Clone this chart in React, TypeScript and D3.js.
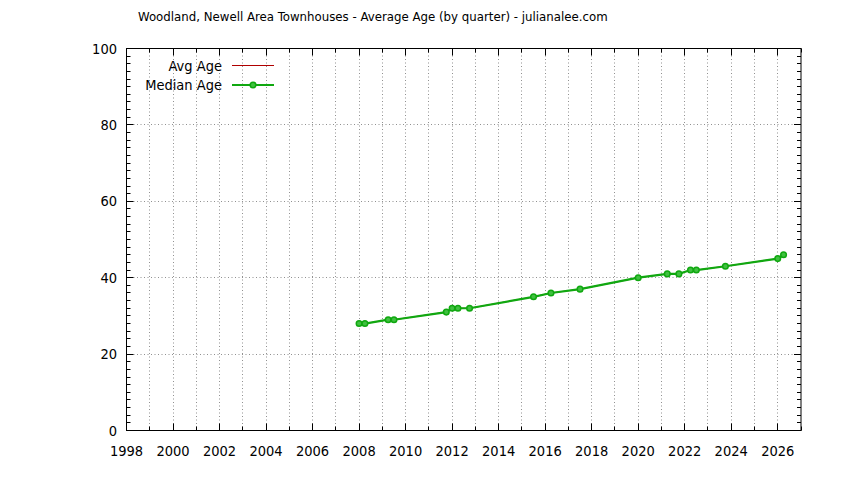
import React, { useEffect, useRef } from 'react';
import * as d3 from 'd3';

// quarter dates (decimal years) and ages
const quarters = [
  2008.0, 2008.25, 2009.25, 2009.5, 2011.75, 2012.0, 2012.25, 2012.75,
  2015.5, 2016.25, 2017.5, 2020.0, 2021.25, 2021.75, 2022.25, 2022.5,
  2023.75, 2026.0, 2026.25,
];
const avgAge = [27.7, 28, 29, 29, 31, 32, 32, 32, 35, 36, 37, 40, 41, 41, 42, 42, 43, 45, 46];
const medianAge = [28, 28, 29, 29, 31, 32, 32, 32, 35, 36, 37, 40, 41, 41, 42, 42, 43, 45, 46];

const yearTicks = d3.range(1998, 2028, 1);
const yearLabels = d3.range(1998, 2027, 2);
const ageTicks = d3.range(0, 101, 2);
const ageLabels = [0, 20, 40, 60, 80, 100];

const TITLE = 'Woodland, Newell Area Townhouses - Average Age (by quarter) - julianalee.com';
const FONT = '"DejaVu Sans Condensed", "DejaVu Sans", sans-serif';
const GREEN = '#10a810';
const RED = '#b00000';

export default function App() {
  const svgRef = useRef<SVGSVGElement>(null);

  useEffect(() => {
    if (!svgRef.current) return;
    const width = 844;
    const height = 480;
    const margin = { top: 48.5, right: 43, bottom: 49.5, left: 126.5 };
    const w = width - margin.left - margin.right;
    const h = height - margin.top - margin.bottom;

    const svg = d3.select(svgRef.current);
    svg.selectAll('*').remove();
    svg.attr('width', width).attr('height', height);

    svg.append('rect').attr('width', width).attr('height', height).attr('fill', '#fff');

    const x = d3.scaleLinear().domain([1998, 2027]).range([0, w]);
    const y = d3.scaleLinear().domain([0, 100]).range([h, 0]);
    const px = (v: number) => Math.round(x(v));
    const py = (v: number) => Math.round(y(v));

    const g = svg.append('g').attr('transform', `translate(${margin.left},${margin.top})`);

    // grid
    g.append('g')
      .selectAll('line')
      .data(yearTicks.filter(d => d > 1998 && d < 2027))
      .join('line')
      .attr('x1', d => px(d)).attr('x2', d => px(d))
      .attr('y1', 0).attr('y2', h)
      .attr('stroke', '#909090').attr('stroke-width', 1)
      .attr('stroke-dasharray', '1,2.5');
    g.append('g')
      .selectAll('line')
      .data(ageLabels.filter(d => d > 0 && d < 100))
      .join('line')
      .attr('x1', 0).attr('x2', w)
      .attr('y1', d => py(d)).attr('y2', d => py(d))
      .attr('stroke', '#909090').attr('stroke-width', 1)
      .attr('stroke-dasharray', '1,2.5');

    // ticks on all four sides, pointing inward
    const ticks = g.append('g').attr('stroke', '#000').attr('stroke-width', 1);
    yearTicks.forEach(d => {
      const len = d % 2 === 0 ? 7 : 4;
      ticks.append('line').attr('x1', px(d)).attr('x2', px(d)).attr('y1', h).attr('y2', h - len);
      ticks.append('line').attr('x1', px(d)).attr('x2', px(d)).attr('y1', 0).attr('y2', len);
    });
    ageTicks.forEach(d => {
      const len = d % 20 === 0 ? 7 : 4;
      ticks.append('line').attr('x1', 0).attr('x2', len).attr('y1', py(d)).attr('y2', py(d));
      ticks.append('line').attr('x1', w).attr('x2', w - len).attr('y1', py(d)).attr('y2', py(d));
    });

    // frame
    g.append('rect')
      .attr('width', w).attr('height', h)
      .attr('fill', 'none').attr('stroke', '#000').attr('stroke-width', 1);

    // tick labels
    g.append('g')
      .selectAll('text')
      .data(yearLabels)
      .join('text')
      .attr('x', d => x(d))
      .attr('y', h + 25)
      .attr('text-anchor', 'middle')
      .style('font-family', FONT)
      .style('font-size', '14.5px')
      .text(d => String(d));
    g.append('g')
      .selectAll('text')
      .data(ageLabels)
      .join('text')
      .attr('x', -9.5)
      .attr('y', d => y(d) + 5)
      .attr('text-anchor', 'end')
      .style('font-family', FONT)
      .style('font-size', '14.5px')
      .text(d => String(d));

    // series
    const avgPts: [number, number][] = quarters.map((q, i) => [q, avgAge[i]]);
    const medPts: [number, number][] = quarters.map((q, i) => [q, medianAge[i]]);
    const line = d3.line<[number, number]>().x(d => x(d[0])).y(d => y(d[1]));

    g.append('path')
      .attr('d', line(avgPts))
      .attr('fill', 'none').attr('stroke', RED).attr('stroke-width', 1);
    g.append('path')
      .attr('d', line(medPts))
      .attr('fill', 'none').attr('stroke', GREEN).attr('stroke-width', 2.2);
    g.append('g')
      .selectAll('circle')
      .data(medPts)
      .join('circle')
      .attr('cx', d => x(d[0])).attr('cy', d => y(d[1]))
      .attr('r', 2.8)
      .attr('fill', '#40c040').attr('stroke', GREEN).attr('stroke-width', 1.5);

    // legend
    const legend = svg.append('g');
    const legendItems = [
      { label: 'Avg Age', color: RED, sw: 1, marker: false, ly: 65.5 },
      { label: 'Median Age', color: GREEN, sw: 2.2, marker: true, ly: 85 },
    ];
    legendItems.forEach(it => {
      legend.append('text')
        .attr('x', 222).attr('y', it.ly + 5)
        .attr('text-anchor', 'end')
        .style('font-family', FONT)
        .style('font-size', '14.5px')
        .text(it.label);
      legend.append('line')
        .attr('x1', 232).attr('x2', 274).attr('y1', it.ly).attr('y2', it.ly)
        .attr('stroke', it.color).attr('stroke-width', it.sw);
      if (it.marker) {
        legend.append('circle')
          .attr('cx', 253).attr('cy', it.ly).attr('r', 2.8)
          .attr('fill', '#40c040').attr('stroke', GREEN).attr('stroke-width', 1.5);
      }
    });

    // title
    svg.append('text')
      .attr('x', 138).attr('y', 21)
      .style('font-family', FONT)
      .style('font-size', '13.1px')
      .text(TITLE);
  }, []);

  return (
    <div style={{ position: 'absolute', left: 0, top: 0 }}>
      <svg ref={svgRef} style={{ display: 'block' }} />
    </div>
  );
}
